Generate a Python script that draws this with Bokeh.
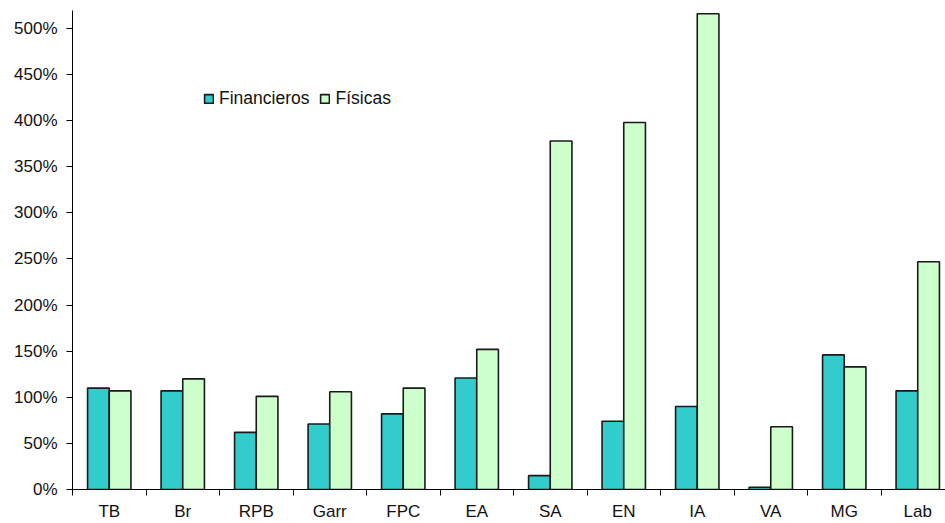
from bokeh.plotting import figure
from bokeh.models import (ColumnDataSource, FixedTicker, PrintfTickFormatter,
                          Legend, LegendItem, Range1d)
from bokeh.embed import file_html
from bokeh.resources import INLINE

categories = ["TB", "Br", "RPB", "Garr", "FPC", "EA", "SA", "EN", "IA", "VA", "MG", "Lab"]
financieros = [110, 107, 62, 71, 82, 121, 15, 74, 90, 2.5, 146, 107]
fisicas = [107, 120, 101, 106, 110, 152, 378, 398, 516, 68, 133, 247]
y_ticks = [0, 50, 100, 150, 200, 250, 300, 350, 400, 450, 500]

FONT = "Liberation Sans"
centers = [i + 0.5 for i in range(len(categories))]
bw = 0.295

src = ColumnDataSource(dict(
    xf=[c - bw / 2 for c in centers],
    xp=[c + bw / 2 for c in centers],
    fin=financieros, fis=fisicas))

p = figure(width=945, height=523, output_backend="svg", toolbar_location=None,
           x_range=Range1d(0, 873 / 73.5), y_range=Range1d(0, 519.5),
           min_border_left=72, min_border_right=0, min_border_top=10,
           min_border_bottom=34)
p.outline_line_color = None
p.xgrid.visible = False
p.ygrid.visible = False
p.background_fill_color = "white"

r1 = p.vbar(x="xf", top="fin", width=bw, source=src, fill_color="#33CCCC",
            line_color="#1a1a1a", line_width=1.6)
r2 = p.vbar(x="xp", top="fis", width=bw, source=src, fill_color="#CCFFCC",
            line_color="#1a1a1a", line_width=1.6)

# x axis: labels at centers, ticks at boundaries (minor ticks)
p.xaxis.ticker = FixedTicker(ticks=centers, minor_ticks=list(range(len(categories) + 1)))
p.xaxis.major_label_overrides = {c: lab for c, lab in zip(centers, categories)}
p.xaxis.major_tick_line_color = None
p.xaxis.major_tick_out = 0
p.xaxis.major_tick_in = 0
p.xaxis.minor_tick_line_color = "black"
p.xaxis.minor_tick_out = 6
p.xaxis.minor_tick_in = 0
p.xaxis.major_label_standoff = 6
p.xaxis.axis_line_color = "black"

p.yaxis.ticker = FixedTicker(ticks=y_ticks, minor_ticks=[])
p.yaxis.formatter = PrintfTickFormatter(format="%d%%")
p.yaxis.major_tick_out = 6
p.yaxis.major_tick_in = 0
p.yaxis.minor_tick_line_color = None
p.yaxis.major_label_standoff = 9
p.yaxis.axis_line_color = "black"

for ax in (p.xaxis, p.yaxis):
    ax.major_label_text_font = FONT
    ax.major_label_text_font_size = "17px"
    ax.major_label_text_color = "#111111"

legend = Legend(items=[LegendItem(label="Financieros", renderers=[r1]),
                       LegendItem(label="Físicas", renderers=[r2])],
                location=(131, 380), orientation="horizontal",
                border_line_color=None, background_fill_alpha=0,
                padding=0, margin=0, spacing=10,
                glyph_width=11, glyph_height=11, label_standoff=5,
                label_text_font=FONT, label_text_font_size="17.5px",
                label_height=17, label_text_color="#111111")
p.add_layout(legend, "center")

open("out.html", "w").write(file_html(p, INLINE))
